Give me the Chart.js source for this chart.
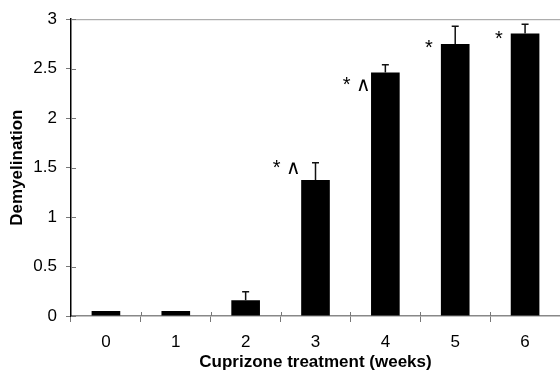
<!DOCTYPE html>
<html lang="en">
<head>
    <meta charset="UTF-8">
    <title>Demyelination</title>
    <script src="https://cdn.jsdelivr.net/npm/chart.js"></script>
    <style>
        html, body { margin: 0; padding: 0; background: #fff; }
        #box { width: 560px; height: 373px; }
    </style>
</head>
<body>
    <div id="box"><canvas id="grafico"></canvas></div>
<script>
    // dados
    const semanas = ['0', '1', '2', '3', '4', '5', '6'];
    const demielinizacao = [0.05, 0.05, 0.16, 1.375, 2.46, 2.75, 2.855];
    const erroSup = [0, 0, 0.085, 0.175, 0.08, 0.18, 0.095];
    const marcas = ['', '', '', '* \u2227', '* \u2227', '*', '*'];
    const marcasY = [0, 0, 0, 1.515, 2.35, 2.72, 2.82];
    const ticksY = [0, 0.5, 1, 1.5, 2, 2.5, 3];

    const fonte = '"Liberation Sans", Arial, sans-serif';

    // linha de topo, ticks cruzando os eixos, barras de erro e marcas
    const extras = {
        id: 'extras',
        afterDatasetsDraw(chart) {
            const ctx = chart.ctx;
            const area = chart.chartArea;
            const x = chart.scales.x;
            const y = chart.scales.y;
            const meta = chart.getDatasetMeta(0);

            ctx.save();
            ctx.strokeStyle = '#9a9a9a';
            ctx.lineWidth = 1;
            ctx.beginPath();
            ctx.moveTo(area.left, area.top + 0.5);
            ctx.lineTo(area.right, area.top + 0.5);
            ctx.stroke();

            // parte interna dos ticks
            ctx.strokeStyle = '#777';
            ctx.beginPath();
            ticksY.forEach(v => {
                const py = Math.round(y.getPixelForValue(v)) + 0.5;
                ctx.moveTo(area.left, py);
                ctx.lineTo(area.left + 5, py);
            });
            const larg = x.getPixelForValue(1) - x.getPixelForValue(0);
            for (let i = 1; i < semanas.length; i++) {
                const px = Math.round(x.getPixelForValue(i) - larg / 2) + 0.5;
                ctx.moveTo(px, area.bottom);
                ctx.lineTo(px, area.bottom - 4);
            }
            ctx.stroke();

            ctx.strokeStyle = '#111';
            ctx.lineWidth = 1.5;
            meta.data.forEach((bar, i) => {
                if (erroSup[i] > 0) {
                    const yTop = y.getPixelForValue(demielinizacao[i] + erroSup[i]);
                    const yBar = y.getPixelForValue(demielinizacao[i]);
                    ctx.beginPath();
                    ctx.moveTo(bar.x, yBar);
                    ctx.lineTo(bar.x, yTop);
                    ctx.moveTo(bar.x - 3.5, yTop);
                    ctx.lineTo(bar.x + 3.5, yTop);
                    ctx.stroke();
                }
                if (marcas[i]) {
                    ctx.fillStyle = '#000';
                    ctx.font = '20px ' + fonte;
                    ctx.textAlign = 'right';
                    ctx.textBaseline = 'middle';
                    const gap = marcas[i].length > 1 ? 0 : 8;
                    ctx.fillText(marcas[i], bar.x - bar.width / 2 - gap, y.getPixelForValue(marcasY[i]) + 2);
                }
            });
            ctx.restore();
        }
    };

    const grafico = document.getElementById('grafico');
    new Chart(grafico, {
        type: 'bar',
        data: {
            labels: semanas,
            datasets: [{
                data: demielinizacao,
                backgroundColor: '#000',
                borderWidth: 0,
                barPercentage: 0.41,
                categoryPercentage: 1
            }]
        },
        options: {
            responsive: true,
            maintainAspectRatio: false,
            animation: false,
            layout: { padding: { top: 17, right: 0, left: 0, bottom: 0 } },
            plugins: {
                legend: { display: false },
                tooltip: { enabled: false }
            },
            scales: {
                x: {
                    grid: {
                        offset: true,
                        drawOnChartArea: false,
                        tickLength: 6,
                        color: '#777'
                    },
                    border: { color: '#888', width: 1.5 },
                    ticks: {
                        color: '#000',
                        padding: 10,
                        font: { family: fonte, size: 17 }
                    },
                    title: {
                        display: true,
                        text: 'Cuprizone treatment (weeks)',
                        color: '#000',
                        padding: { top: 2, bottom: 0 },
                        font: { family: fonte, size: 17, weight: 'bold' }
                    },
                    afterFit(scale) { scale.height = 57; }
                },
                y: {
                    min: 0,
                    max: 3,
                    afterBuildTicks(scale) { scale.ticks = ticksY.map(v => ({ value: v })); },
                    grid: {
                        drawOnChartArea: false,
                        tickLength: 5,
                        color: '#777'
                    },
                    border: { color: '#000', width: 1.5 },
                    ticks: {
                        color: '#000',
                        padding: 9,
                        callback: v => String(v),
                        font: { family: fonte, size: 17 }
                    },
                    title: {
                        display: true,
                        text: 'Demyelination',
                        color: '#000',
                        padding: { top: 7, bottom: 0 },
                        font: { family: fonte, size: 17, weight: 'bold' }
                    },
                    afterFit(scale) { scale.width = 71; }
                }
            }
        },
        plugins: [extras]
    });
</script>
</body>
</html>
